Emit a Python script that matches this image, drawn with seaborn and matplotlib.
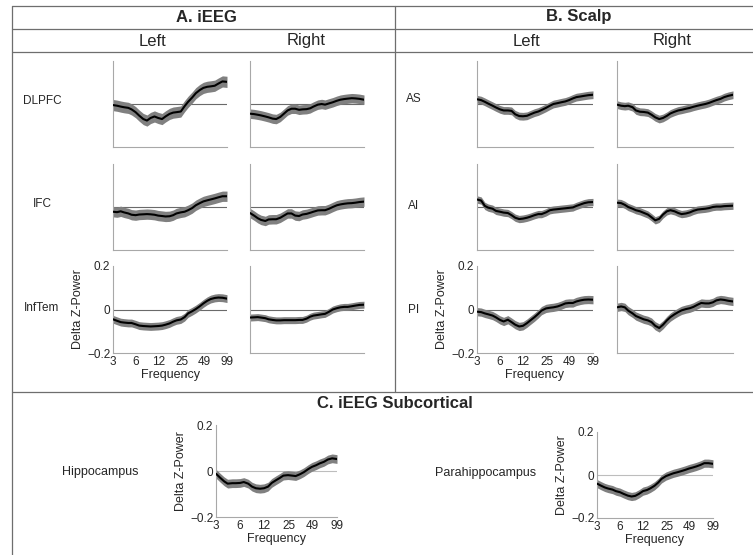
import numpy as np
import matplotlib
matplotlib.use("Agg")
import matplotlib.pyplot as plt
from matplotlib.lines import Line2D
import seaborn as sns

sns.set_style("white")
plt.rcParams["font.family"] = ["Liberation Sans", "DejaVu Sans"]

# frequency axis (Hz) and tick labels
freqs = [3, 3.4, 3.8, 4.2, 4.8, 5.3, 6, 6.7, 7.6, 8.5, 9.5, 10.7, 12, 13.5, 15, 17,
         19, 21, 24, 27, 30, 34, 38, 43, 48, 54, 60, 68, 76, 86, 99]
freq_ticks = [3, 6, 12, 25, 49, 99]
power_ticks = [-0.2, 0, 0.2]
power_labels = ["\u22120.2", "0", "0.2"]

# A. iEEG
dlpfc_left = [-0.005, -0.008, -0.012, -0.015, -0.018, -0.025, -0.038, -0.054, -0.07, -0.077,
              -0.065, -0.058, -0.065, -0.07, -0.058, -0.046, -0.04, -0.038, -0.035, -0.01,
              0.01, 0.03, 0.05, 0.065, 0.075, 0.08, 0.082, 0.085, 0.095, 0.105, 0.103]
dlpfc_right = [-0.045, -0.047, -0.05, -0.053, -0.058, -0.062, -0.068, -0.07, -0.06, -0.045,
               -0.03, -0.022, -0.022, -0.027, -0.025, -0.024, -0.02, -0.012, -0.003, 0.0,
               -0.003, 0.003, 0.008, 0.015, 0.02, 0.023, 0.025, 0.027, 0.026, 0.024, 0.02]
ifc_left = [-0.022, -0.024, -0.02, -0.025, -0.03, -0.036, -0.038, -0.035, -0.034, -0.033,
            -0.034, -0.036, -0.04, -0.042, -0.044, -0.043, -0.038, -0.03, -0.025, -0.022,
            -0.015, -0.005, 0.008, 0.018, 0.026, 0.031, 0.035, 0.04, 0.045, 0.05, 0.05]
ifc_right = [-0.028, -0.04, -0.052, -0.06, -0.065, -0.058, -0.057, -0.057, -0.05, -0.04,
             -0.03, -0.03, -0.04, -0.042, -0.035, -0.032, -0.027, -0.022, -0.016, -0.015,
             -0.015, -0.008, 0.0, 0.008, 0.012, 0.015, 0.017, 0.018, 0.02, 0.023, 0.025]
inftem_left = [-0.045, -0.052, -0.058, -0.06, -0.062, -0.062, -0.068, -0.074, -0.076, -0.077,
               -0.078, -0.077, -0.076, -0.074, -0.07, -0.064, -0.056, -0.05, -0.046, -0.035,
               -0.018, -0.008, 0.002, 0.015, 0.028, 0.04, 0.048, 0.053, 0.055, 0.054, 0.05]
inftem_right = [-0.037, -0.036, -0.035, -0.037, -0.04, -0.045, -0.048, -0.05, -0.05, -0.049,
                -0.049, -0.049, -0.049, -0.048, -0.048, -0.042, -0.033, -0.028, -0.025, -0.022,
                -0.02, -0.01, 0.0, 0.006, 0.01, 0.012, 0.012, 0.015, 0.018, 0.021, 0.022]

# B. Scalp
as_left = [0.022, 0.018, 0.01, 0.002, -0.008, -0.016, -0.025, -0.03, -0.03, -0.032,
           -0.048, -0.056, -0.057, -0.055, -0.048, -0.04, -0.035, -0.028, -0.018, -0.008,
           0.0, 0.004, 0.008, 0.012, 0.018, 0.026, 0.032, 0.035, 0.038, 0.041, 0.043]
as_right = [-0.003, -0.008, -0.01, -0.008, -0.015, -0.03, -0.036, -0.037, -0.04, -0.05,
            -0.062, -0.07, -0.065, -0.055, -0.044, -0.036, -0.03, -0.027, -0.022, -0.018,
            -0.013, -0.008, -0.004, 0.0, 0.005, 0.012, 0.018, 0.024, 0.032, 0.038, 0.043]
ai_left = [0.035, 0.03, 0.005, -0.003, -0.008, -0.018, -0.022, -0.026, -0.028, -0.038,
           -0.05, -0.056, -0.054, -0.05, -0.045, -0.038, -0.033, -0.033, -0.025, -0.015,
           -0.012, -0.01, -0.008, -0.006, -0.004, -0.002, 0.005, 0.012, 0.018, 0.022, 0.023]
ai_right = [0.02, 0.018, 0.01, 0.0, -0.008, -0.015, -0.02, -0.027, -0.035, -0.048,
            -0.062, -0.055, -0.035, -0.02, -0.015, -0.02, -0.028, -0.033, -0.03, -0.025,
            -0.018, -0.012, -0.01, -0.008, -0.005, 0.0, 0.002, 0.002, 0.004, 0.005, 0.006]
pi_left = [-0.01, -0.012, -0.018, -0.022, -0.028, -0.036, -0.048, -0.055, -0.047, -0.058,
           -0.07, -0.078, -0.075, -0.063, -0.05, -0.035, -0.02, -0.005, 0.005, 0.008,
           0.01, 0.014, 0.02, 0.028, 0.03, 0.03, 0.037, 0.042, 0.045, 0.046, 0.045]
pi_right = [0.01, 0.014, 0.01, -0.005, -0.018, -0.03, -0.038, -0.045, -0.05, -0.058,
            -0.075, -0.085, -0.07, -0.05, -0.035, -0.022, -0.012, -0.004, 0.002, 0.006,
            0.012, 0.022, 0.03, 0.028, 0.028, 0.033, 0.042, 0.046, 0.044, 0.04, 0.037]

# C. iEEG Subcortical
hippocampus = [-0.012, -0.03, -0.045, -0.055, -0.053, -0.053, -0.052, -0.048, -0.055, -0.068,
               -0.075, -0.077, -0.075, -0.068, -0.052, -0.04, -0.03, -0.02, -0.018, -0.02,
               -0.022, -0.014, -0.005, 0.008, 0.018, 0.025, 0.033, 0.04, 0.05, 0.055, 0.052]
parahippocampus = [-0.04, -0.05, -0.058, -0.063, -0.068, -0.075, -0.08, -0.088, -0.096, -0.1,
                   -0.097, -0.087, -0.075, -0.07, -0.062, -0.05, -0.035, -0.018, -0.005, 0.002,
                   0.008, 0.013, 0.018, 0.024, 0.03, 0.035, 0.04, 0.047, 0.055, 0.055, 0.052]

# half-width of the grey error band per panel
sem_ieeg = [0.026, 0.022, 0.024, 0.022, 0.018, 0.016]
sem_scalp = [0.018, 0.018, 0.017, 0.017, 0.019, 0.019]
sem_sub = [0.019, 0.019]

ieeg_rows = ["DLPFC", "IFC", "InfTem"]
scalp_rows = ["AS", "AI", "PI"]

W, H = 753, 555
fig = plt.figure(figsize=(W / 100, H / 100), dpi=100)


def px_rect(x0, y0, x1, y1):
    return [x0 / W, 1 - y1 / H, (x1 - x0) / W, (y1 - y0) / H]


def ftext(x, y, s, **kw):
    fig.text(x / W, 1 - y / H, s, ha="center", va="center", **kw)


def fline(x0, y0, x1, y1):
    fig.add_artist(Line2D([x0 / W, x1 / W], [1 - y0 / H, 1 - y1 / H],
                          transform=fig.transFigure, color="#6e6e6e", lw=0.9))


def draw_panel(rect, values, sem, labelled=False, zero_color="#6a6a6a"):
    ax = fig.add_axes(rect)
    vals = np.array(values)
    ax.set_xscale("log", base=2)
    ax.fill_between(freqs, vals - sem, vals + sem, color="#808080", lw=0, zorder=2)
    sns.lineplot(x=freqs, y=vals, color="black", lw=1.5, ax=ax, zorder=3)
    ax.axhline(0, color=zero_color, lw=0.8, zorder=1)
    ax.set_xlim(3, 99)
    ax.set_ylim(-0.2, 0.2)
    ax.set_xticks(freq_ticks)
    ax.set_yticks(power_ticks)
    ax.minorticks_off()
    for side in ["top", "right"]:
        ax.spines[side].set_visible(False)
    for side in ["left", "bottom"]:
        ax.spines[side].set_color("#a8a8a8")
        ax.spines[side].set_linewidth(0.8)
    ax.tick_params(direction="in", length=2, width=0.6, color="#a8a8a8",
                   labelsize=8.5, pad=2)
    if labelled:
        ax.set_xticklabels([str(f) for f in freq_ticks])
        ax.set_yticklabels(power_labels)
        ax.set_xlabel("Frequency", fontsize=9, labelpad=1)
        ax.set_ylabel("Delta Z-Power", fontsize=9, labelpad=2)
    else:
        ax.set_xticklabels([])
        ax.set_yticklabels([])
        ax.set_xlabel("")
        ax.set_ylabel("")
    return ax


rows_px = [(61, 147), (164, 250), (266, 353)]
ieeg_cols = [(113, 227), (250, 364)]
scalp_cols = [(477, 593), (617, 733)]

ieeg_data = [dlpfc_left, dlpfc_right, ifc_left, ifc_right, inftem_left, inftem_right]
scalp_data = [as_left, as_right, ai_left, ai_right, pi_left, pi_right]

for r, (y0, y1) in enumerate(rows_px):
    for c in range(2):
        i = r * 2 + c
        lab = (r == 2 and c == 0)
        x0, x1 = ieeg_cols[c]
        draw_panel(px_rect(x0, y0, x1, y1), ieeg_data[i], sem_ieeg[i], labelled=lab)
        x0, x1 = scalp_cols[c]
        draw_panel(px_rect(x0, y0, x1, y1), scalp_data[i], sem_scalp[i], labelled=lab)

draw_panel(px_rect(216, 425, 337, 517), hippocampus, sem_sub[0], labelled=True,
           zero_color="#bdbdbd")
draw_panel(px_rect(597, 432, 713, 518), parahippocampus, sem_sub[1], labelled=True,
           zero_color="#bdbdbd")

# row labels
for name, y in zip(ieeg_rows, [101, 204, 308]):
    ftext(42, y, name, fontsize=8.5)
for name, y in zip(scalp_rows, [99, 206, 310]):
    ftext(414, y, name, fontsize=8.5)
ftext(100, 472, "Hippocampus", fontsize=9)
ftext(486, 473, "Parahippocampus", fontsize=9)

# headers
ftext(206, 17, "A. iEEG", fontsize=12, fontweight="bold")
ftext(579, 17, "B. Scalp", fontsize=12, fontweight="bold")
ftext(152, 41, "Left", fontsize=12)
ftext(306, 41, "Right", fontsize=12)
ftext(527, 41, "Left", fontsize=12)
ftext(672, 41, "Right", fontsize=12)
ftext(395, 404, "C. iEEG Subcortical", fontsize=12, fontweight="bold")

# table frame
fline(12, 6, 753, 6)
fline(12, 29, 753, 29)
fline(12, 52, 753, 52)
fline(12, 392, 753, 392)
fline(12, 6, 12, 555)
fline(395, 6, 395, 392)

fig.savefig("out.png", dpi=100)
